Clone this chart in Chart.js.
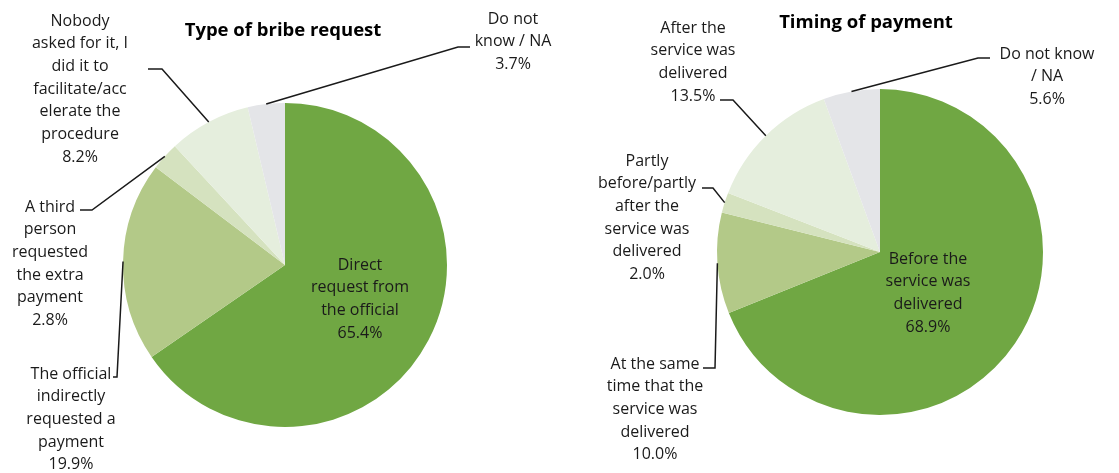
<!DOCTYPE html>
<html>
<head>
<meta charset="utf-8">
<script src="https://cdn.jsdelivr.net/npm/chart.js@4"></script>
<style>
  html, body { margin: 0; padding: 0; background: #fff; }
  #wrap { position: relative; width: 1119px; height: 473px; }
  .box { position: absolute; top: 0; height: 473px; }
  #boxA { left: 0; width: 560px; }
  #boxB { left: 560px; width: 559px; }
</style>
</head>
<body>
<div id="wrap">
  <div class="box" id="boxA"><canvas id="requestChart"></canvas></div>
  <div class="box" id="boxB"><canvas id="timingChart"></canvas></div>
</div>
<script>
// Type of bribe request
const requestLabels = [
  ['Direct', 'request from', 'the official'],
  ['The official', 'indirectly', 'requested a', 'payment'],
  ['A third', 'person', 'requested', 'the extra', 'payment'],
  ['Nobody', 'asked for it, I', 'did it to', 'facilitate/acc', 'elerate the', 'procedure'],
  ['Do not', 'know / NA']
];
const requestValues = [65.4, 19.9, 2.8, 8.2, 3.7];

// Timing of payment
const timingLabels = [
  ['Before the', 'service was', 'delivered'],
  ['At the same', 'time that the', 'service was', 'delivered'],
  ['Partly', 'before/partly', 'after the', 'service was', 'delivered'],
  ['After the', 'service was', 'delivered'],
  ['Do not know', '/ NA']
];
const timingValues = [68.9, 10.0, 2.0, 13.5, 5.6];

const sliceColors = ['#70a743', '#b3c988', '#d5e2bf', '#e5eedd', '#e4e5e8'];

const FONT = '"Open Sans", Lato, sans-serif';
const LINE_H = 22.7;

// where each label block sits (text centre x, first line y) and its leader elbow
const requestPlace = [
  { x: 360, y: 265 },
  { x: 71, y: 374, leader: [[113, 377], [117, 377]] },
  { x: 50, y: 207, leader: [[80, 210], [92, 210]] },
  { x: 80, y: 21, leader: [[148, 69], [162, 69]] },
  { x: 513, y: 19, leader: [[470, 47], [458, 47]] }
];
const timingPlace = [
  { x: 368, y: 259 },
  { x: 95, y: 364, leader: [[143, 368], [155, 368]] },
  { x: 87, y: 161, leader: [[142, 188], [153, 188]] },
  { x: 133, y: 28, leader: [[160, 100], [173, 100]] },
  { x: 487, y: 54, leader: [[430, 58], [418, 58]] }
];

const pieLabels = {
  id: 'pieLabels',
  afterDatasetsDraw(chart, args, opts) {
    const ctx = chart.ctx;
    const meta = chart.getDatasetMeta(0);
    const values = chart.data.datasets[0].data;
    ctx.save();

    // title
    ctx.fillStyle = '#000';
    ctx.font = 'bold 18.5px ' + FONT;
    ctx.textAlign = 'center';
    ctx.textBaseline = 'middle';
    ctx.fillText(opts.title, opts.titleX, opts.titleY);

    meta.data.forEach((arc, i) => {
      const p = opts.place[i];
      const lines = chart.data.labels[i].concat([values[i].toFixed(1) + '%']);

      if (p.leader) {
        const { x, y, startAngle, endAngle, outerRadius } = arc.getProps(['x', 'y', 'startAngle', 'endAngle', 'outerRadius'], true);
        const mid = (startAngle + endAngle) / 2;
        ctx.beginPath();
        ctx.moveTo(p.leader[0][0], p.leader[0][1]);
        ctx.lineTo(p.leader[1][0], p.leader[1][1]);
        ctx.lineTo(x + Math.cos(mid) * outerRadius, y + Math.sin(mid) * outerRadius);
        ctx.strokeStyle = '#1a1a1a';
        ctx.lineWidth = 1.5;
        ctx.stroke();
      }

      ctx.font = '16px ' + FONT;
      ctx.fillStyle = '#1a1a1a';
      lines.forEach((t, k) => ctx.fillText(t, p.x, p.y + k * LINE_H));
    });
    ctx.restore();
  }
};

function makePie(id, labels, values, place, title, titleX, titleY, padding) {
  return new Chart(document.getElementById(id), {
    type: 'pie',
    data: {
      labels,
      datasets: [{
        data: values,
        backgroundColor: sliceColors,
        borderWidth: 0
      }]
    },
    options: {
      responsive: true,
      maintainAspectRatio: false,
      animation: false,
      layout: { padding },
      plugins: {
        legend: { display: false },
        tooltip: { enabled: false },
        pieLabels: { place, title, titleX, titleY }
      }
    },
    plugins: [pieLabels]
  });
}

makePie('requestChart', requestLabels, requestValues, requestPlace,
  'Type of bribe request', 283, 31,
  { left: 123, right: 113, top: 103, bottom: 46 });

makePie('timingChart', timingLabels, timingValues, timingPlace,
  'Timing of payment', 306, 23,
  { left: 157, right: 76, top: 89, bottom: 58 });
</script>
</body>
</html>
